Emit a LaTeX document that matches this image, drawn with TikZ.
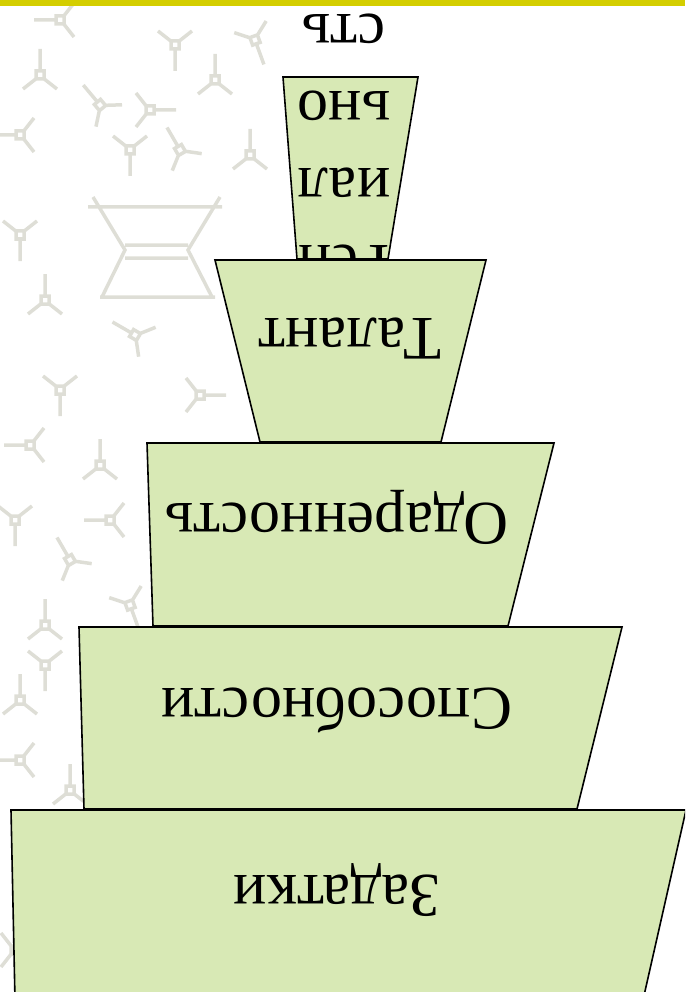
\documentclass[tikz,border=0pt]{standalone}
\usepackage{fontspec}
\setmainfont{Liberation Serif}
\definecolor{tierfill}{RGB}{216,233,181}
\definecolor{barcol}{RGB}{212,206,0}
\definecolor{patcol}{RGB}{222,222,214}
\tikzset{
  tier/.style={fill=tierfill, draw=black, line width=1.6pt},
  tiertext/.style={rotate=180, anchor=base, inner sep=0pt, font=\fontsize{62}{77}\selectfont},
  molecule/.style={draw=patcol, line width=3.5pt},
}
\begin{document}
\begin{tikzpicture}[x=1pt,y=-1pt]
        \clip (0,0) rectangle (685,992);
        % faint pattern on the left
        \begin{scope}
          \clip (0,6) rectangle (285,992);
          \foreach \px/\py/\pa in {40/75/0, 100/105/40, 175/45/180, 215/80/0, 255/40/200, 20/135/90,
              130/150/180, 180/150/30, 250/155/0, 60/20/90, 150/110/270,
              20/235/180, 45/300/0, 135/335/60, 255/330/30, 60/390/180, 200/395/270,
              30/445/90, 100/465/0, 250/470/150, 15/520/180, 70/560/30, 200/560/0,
              130/605/200, 45/625/0, 45/665/180, 20/760/90, 70/790/0, 130/800/120,
              100/720/270, 20/700/0, 200/680/180, 110/520/90,
              40/860/180, 100/900/0, 220/870/60, 15/950/270, 160/950/0, 250/960/180} {
            \draw[molecule, shift={(\px,\py)}, rotate=\pa] (-4,-4) rectangle (4,4)
              (0,-4) -- (0,-26) (-3,3) -- (-17,14) (3,3) -- (17,14);
          }
          \draw[molecule] (88,207) -- (222,207) (100,297) -- (215,297)
            (125,245) -- (188,245) (125,258) -- (188,258)
            (93,197) -- (125,250) -- (102,297) (220,197) -- (188,250) -- (212,297);
        \end{scope}
        \fill[barcol] (0,0) rectangle (685,6.5);
        % tiers, from the top down
        \filldraw[tier] (283,77) -- (418,77) -- (388,259) -- (297,259) -- cycle;
        \node[tiertext, align=center] (genius) at (344,15) {Ген\\иал\\ьно\\сть};
        \filldraw[tier] (215,260) -- (486,260) -- (441,442) -- (260,442) -- cycle;
        \node[tiertext] (talent) at (350,318) {Талант};
        \filldraw[tier] (147,443) -- (554,443) -- (508,626) -- (153,626) -- cycle;
        \node[tiertext] (gift) at (337,503) {Одаренность};
        \filldraw[tier] (79,627) -- (622,627) -- (577,809) -- (84,809) -- cycle;
        \node[tiertext] (ability) at (337,688) {Способности};
        \filldraw[tier] (11,810) -- (686,810) -- (643,1000) -- (15,1000) -- cycle;
        \node[tiertext] (makings) at (337,875) {Задатки};
      \end{tikzpicture}
\end{document}
